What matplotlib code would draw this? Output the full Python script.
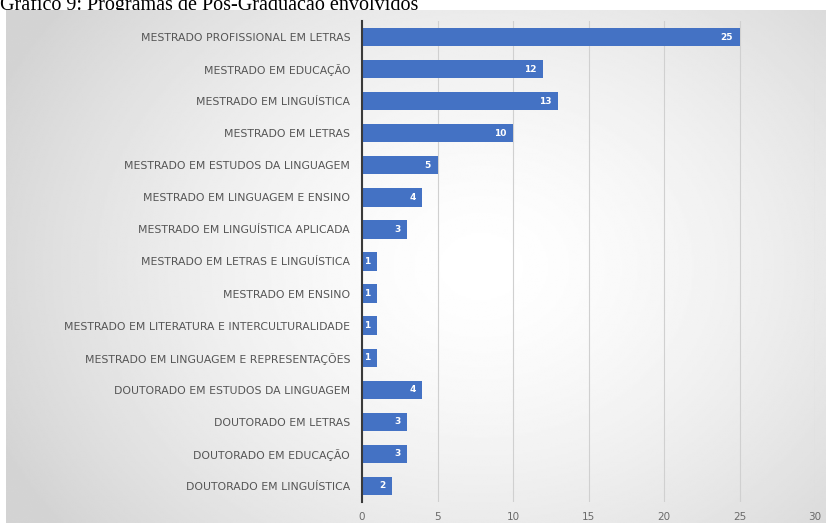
import numpy as np
import matplotlib
matplotlib.use("Agg")
import matplotlib.pyplot as plt
from matplotlib import font_manager

programas = [
    "MESTRADO PROFISSIONAL EM LETRAS",
    "MESTRADO EM EDUCAÇÃO",
    "MESTRADO EM LINGUÍSTICA",
    "MESTRADO EM LETRAS",
    "MESTRADO EM ESTUDOS DA LINGUAGEM",
    "MESTRADO EM LINGUAGEM E ENSINO",
    "MESTRADO EM LINGUÍSTICA APLICADA",
    "MESTRADO EM LETRAS E LINGUÍSTICA",
    "MESTRADO EM ENSINO",
    "MESTRADO EM LITERATURA E INTERCULTURALIDADE",
    "MESTRADO EM LINGUAGEM E REPRESENTAÇÕES",
    "DOUTORADO EM ESTUDOS DA LINGUAGEM",
    "DOUTORADO EM LETRAS",
    "DOUTORADO EM EDUCAÇÃO",
    "DOUTORADO EM LINGUÍSTICA",
]
quantidade = [25, 12, 13, 10, 5, 4, 3, 1, 1, 1, 1, 4, 3, 3, 2]
ticks_x = [0, 5, 10, 15, 20, 25, 30]

titulo = "Gráfico 9: Programas de Pós-Graduação envolvidos"

nomes = {f.name for f in font_manager.fontManager.ttflist}
narrow = "Liberation Sans Narrow" if "Liberation Sans Narrow" in nomes else "DejaVu Sans"

W, H = 826, 523
fig = plt.figure(figsize=(W / 100, H / 100), dpi=100)
fig.patch.set_facecolor("white")

# gray panel with a soft radial highlight
bg = fig.add_axes([6 / W, 0, 1 - 6 / W, 1 - 10 / H], zorder=1)
yy, xx = np.mgrid[0:1:300j, 0:1:500j]
r = np.sqrt(((xx - 0.58) / 0.62) ** 2 + ((yy - 0.5) / 0.8) ** 2)
shade = np.clip(1.0 - 0.16 * r ** 1.5, 0.83, 1.0)
bg.imshow(shade, cmap="gray", vmin=0, vmax=1, aspect="auto",
          extent=[0, 1, 0, 1], interpolation="bilinear")
bg.set_axis_off()

fig.text(0, 1 - 10 / H, titulo, family="Liberation Serif", fontsize=14.5,
         va="baseline", ha="left", color="black", zorder=0.5)

ax = fig.add_axes([362 / W, 21 / H, (815 - 362) / W, (502 - 21) / H], zorder=2)
ax.patch.set_alpha(0)

y = np.arange(len(programas))
bars = ax.barh(y, quantidade, height=0.57, color="#4472C4", zorder=3)
for b, v in zip(bars, quantidade):
    ax.annotate(str(v), (b.get_width(), b.get_y() + b.get_height() / 2),
                xytext=(-5, 0), textcoords="offset points", ha="right",
                va="center", color="white", fontsize=6.5, fontweight="bold",
                family=narrow, zorder=4)

ax.set_ylim(len(programas) - 0.5, -0.5)
ax.set_xlim(0, 30)
ax.set_xticks(ticks_x)
ax.set_yticks(y)
ax.set_yticklabels(programas, family=narrow, fontsize=7.8, color="#555555")
for t in ax.get_xticklabels():
    t.set_family(narrow)
    t.set_fontsize(7.5)
    t.set_color("#6a6a6a")
ax.tick_params(axis="both", length=0)
ax.tick_params(axis="y", pad=8.5)
ax.tick_params(axis="x", pad=7)
ax.grid(axis="x", color="#d0d0d0", linewidth=0.8, zorder=0)
for s in ["top", "right", "bottom"]:
    ax.spines[s].set_visible(False)
ax.spines["left"].set_color("#3a3a3a")
ax.spines["left"].set_linewidth(1.5)
ax.spines["left"].set_zorder(5)

fig.savefig("out.png", dpi=100)
